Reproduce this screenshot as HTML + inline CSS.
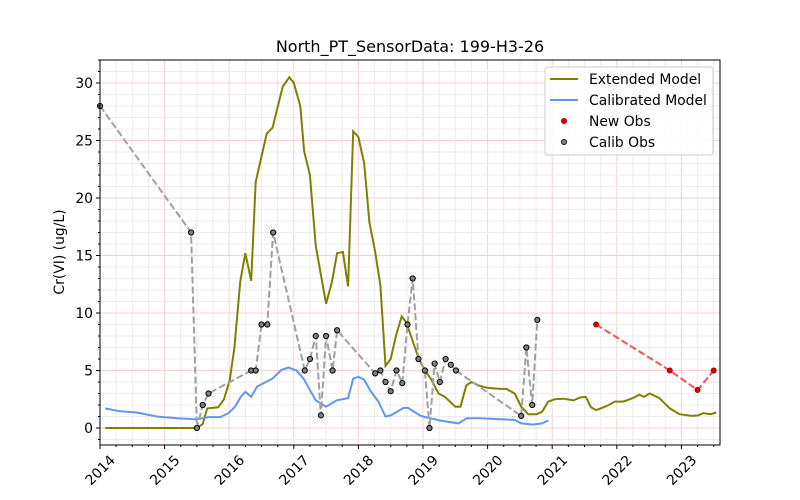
<!DOCTYPE html>
<html><head><meta charset="utf-8"><style>
body{margin:0;background:#fff;}
svg{display:block;font-family:"DejaVu Sans","Liberation Sans",sans-serif;}
</style></head><body>
<svg id="chart" width="800" height="500" viewBox="0 0 800 500"></svg>
<script>
const extT=[2014.08,2015.5,2015.59,2015.66,2015.83,2015.92,2016.01,2016.08,2016.17,2016.25,2016.34,2016.41,2016.5,2016.58,2016.67,2016.83,2016.93,2017.0,2017.1,2017.16,2017.25,2017.34,2017.5,2017.59,2017.67,2017.76,2017.84,2017.92,2018.0,2018.09,2018.17,2018.26,2018.34,2018.42,2018.5,2018.58,2018.67,2018.74,2018.93,2019.03,2019.13,2019.24,2019.34,2019.5,2019.58,2019.67,2019.75,2019.86,2019.99,2020.19,2020.29,2020.42,2020.52,2020.63,2020.76,2020.84,2020.94,2021.04,2021.17,2021.33,2021.43,2021.52,2021.6,2021.68,2021.84,2021.97,2022.1,2022.25,2022.35,2022.42,2022.51,2022.66,2022.82,2022.97,2023.16,2023.26,2023.34,2023.45,2023.54];
const extV=[0,0,0.35,1.7,1.8,2.5,4.2,7,12.7,15.2,12.8,21.4,23.6,25.6,26.1,29.7,30.5,30,28,24.1,22,15.8,10.8,12.7,15.2,15.3,12.3,25.8,25.3,23,17.9,15.3,12.4,5.4,6,8,9.7,9.2,6.1,5,4.2,3,2.7,1.85,1.85,3.7,4,3.7,3.5,3.4,3.4,3.0,1.85,1.2,1.2,1.4,2.3,2.5,2.55,2.4,2.65,2.7,1.8,1.55,1.9,2.3,2.3,2.6,2.9,2.7,3.0,2.6,1.7,1.2,1.05,1.1,1.3,1.2,1.35];
const calT=[2014.08,2014.31,2014.57,2014.88,2015.19,2015.5,2015.68,2015.86,2015.99,2016.09,2016.18,2016.25,2016.34,2016.43,2016.67,2016.81,2016.92,2017.04,2017.15,2017.25,2017.34,2017.5,2017.66,2017.84,2017.92,2018.0,2018.09,2018.18,2018.31,2018.42,2018.5,2018.7,2018.77,2018.95,2019.0,2019.26,2019.55,2019.68,2019.88,2020.42,2020.52,2020.7,2020.84,2020.94];
const calV=[1.7,1.45,1.35,1.0,0.85,0.75,0.95,0.95,1.3,1.85,2.7,3.15,2.7,3.6,4.3,5.05,5.25,5.0,4.3,3.3,2.4,1.85,2.4,2.6,4.3,4.45,4.2,3.3,2.3,1.0,1.1,1.75,1.75,1.1,1.0,0.65,0.4,0.85,0.85,0.7,0.4,0.3,0.4,0.65];
const obsT=[2014.0,2015.41,2015.5,2015.59,2015.68,2016.34,2016.41,2016.5,2016.59,2016.68,2017.17,2017.25,2017.34,2017.42,2017.5,2017.6,2017.67,2018.26,2018.34,2018.42,2018.5,2018.59,2018.68,2018.76,2018.84,2018.93,2019.03,2019.1,2019.18,2019.26,2019.35,2019.43,2019.51,2020.52,2020.6,2020.69,2020.77];
const obsV=[28,17,0,2,3,5,5,9,9,17,5,6,8,1.1,8,5,8.5,4.75,5,4,3.2,5,3.9,9,13,6,5,0,5.6,4,6,5.5,5,1.05,7,2,9.4];
const newT=[2021.68,2022.82,2023.25,2023.5];
const newV=[9,5,3.3,5];
const xTicks=[2014,2015,2016,2017,2018,2019,2020,2021,2022,2023];
const yTicks=[0,5,10,15,20,25,30];

const L=100,R=720,T=60,B=445;
const X=t=>L+64.6*(t-2014);
const Y=v=>428-11.5*v;
const svg=document.getElementById('chart');
const NS='http://www.w3.org/2000/svg';
function mk(tag,attrs,parent){const e=document.createElementNS(NS,tag);for(const k in attrs)e.setAttribute(k,attrs[k]);(parent||svg).appendChild(e);return e;}

const grid=mk('g',{});


for(let t=2014;t<=2023.6;t+=0.25){const x=X(t);if(x>R)break;const maj=Math.abs(t-Math.round(t))<1e-6;
 mk('line',{x1:x,x2:x,y1:T,y2:B,stroke:maj?'#f8d0d0':'#ececec','stroke-width':1},grid);}
for(let v=-1;v<=32;v++){const y=Y(v);if(y<T||y>B)continue;const maj=v%5===0;
 mk('line',{x1:L,x2:R,y1:y,y2:y,stroke:maj?'#f8d0d0':'#ececec','stroke-width':1},grid);}

function pathD(ts,vs){return ts.map((t,i)=>(i?'L':'M')+X(t).toFixed(1)+','+Y(vs[i]).toFixed(1)).join(' ');}
const ext=mk('path',{d:pathD(extT,extV),fill:'none',stroke:'#808000','stroke-width':2});


const cal=mk('path',{d:pathD(calT,calV),fill:'none',stroke:'#6495ed','stroke-width':2});


const obsL=mk('path',{d:pathD(obsT,obsV),fill:'none',stroke:'#a0a0a0','stroke-width':2,'stroke-dasharray':'7,3'});


const newL=mk('path',{d:pathD(newT,newV),fill:'none',stroke:'#ff5050','stroke-width':2,'stroke-dasharray':'7,3'});


obsT.forEach((t,i)=>{const c=mk('circle',{cx:X(t),cy:Y(obsV[i]),r:2.6,fill:'#808080',stroke:'#000','stroke-width':1});
 
 });
newT.forEach((t,i)=>{const c=mk('circle',{cx:X(t),cy:Y(newV[i]),r:2.6,fill:'#dd0000',stroke:'#990000','stroke-width':0.8});
 
 });

const frame=mk('rect',{x:L,y:T,width:R-L,height:B-T,fill:'none',stroke:'#000','stroke-width':1});



for(let t=2014;t<=2023.6;t+=0.25){const x=X(t);if(x>R)break;const maj=Math.abs(t-Math.round(t))<1e-6;
 mk('line',{x1:x,x2:x,y1:B,y2:B+(maj?4:2),stroke:'#000','stroke-width':1});}
xTicks.forEach(t=>{const x=X(t);const cy=470;const tx=mk('text',{x:x,y:cy+5,'font-size':13.9,'text-anchor':'middle',transform:`rotate(-45 ${x} ${cy})`});tx.textContent=t;
 
 });
for(let v=-1;v<=32;v++){const y=Y(v);if(y<T||y>B)continue;const maj=v%5===0;
 mk('line',{x1:L,x2:L-(maj?4:2),y1:y,y2:y,stroke:'#000','stroke-width':1});}
yTicks.forEach(v=>{const tx=mk('text',{x:L-7,y:Y(v)+5,'font-size':13.9,'text-anchor':'end'});tx.textContent=v;
 
 });

const title=mk('text',{x:410,y:52,'font-size':16,'text-anchor':'middle'});title.textContent='North_PT_SensorData: 199-H3-26';


const yl=mk('text',{x:64,y:252,'font-size':13.9,'text-anchor':'middle',transform:'rotate(-90 64 252)'});yl.textContent='Cr(VI) (ug/L)';



const lg=mk('g',{});


mk('rect',{x:545,y:67,width:168,height:88,rx:3,fill:'#fff','fill-opacity':0.85,stroke:'#ccc'},lg);
const items=[['Extended Model','line','#808000'],['Calibrated Model','line','#6495ed'],['New Obs','dot','#dd0000'],['Calib Obs','dot','#808080']];
items.forEach((it,i)=>{const y=79+i*21;
 if(it[1]==='line')mk('line',{x1:550,x2:578,y1:y,y2:y,stroke:it[2],'stroke-width':2},lg);
 else mk('circle',{cx:564,cy:y,r:2.6,fill:it[2],stroke:i===3?'#000':'#990000','stroke-width':0.8},lg);
 const tx=mk('text',{x:589,y:y+5,'font-size':13.9},lg);tx.textContent=it[0];
 
 });
</script>
</body></html>
